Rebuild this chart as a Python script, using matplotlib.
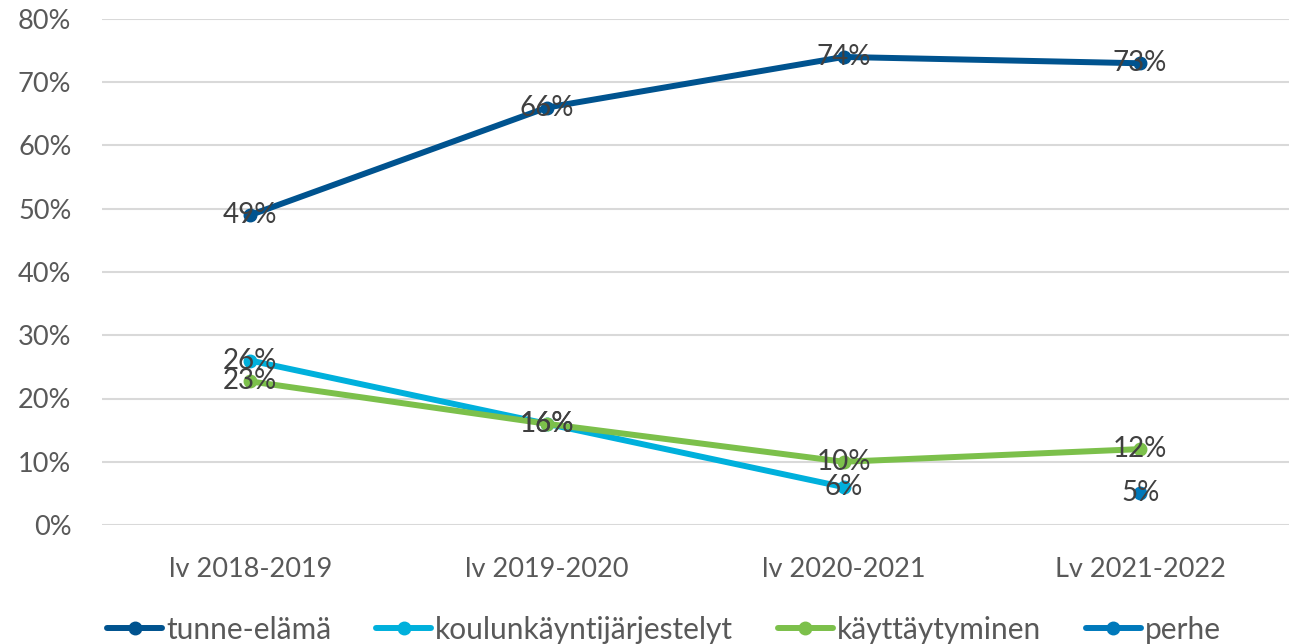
import numpy as np
import matplotlib
matplotlib.use("Agg")
import matplotlib.pyplot as plt
from matplotlib.ticker import PercentFormatter

plt.rcParams['font.family'] = ['Lato', 'DejaVu Sans']

vuodet = ['lv 2018-2019', 'lv 2019-2020', 'lv 2020-2021', 'Lv 2021-2022']
tunne_elama = [0.49, 0.66, 0.74, 0.73]
koulunkaynti = [0.26, 0.16, 0.06, np.nan]
kayttaytyminen = [0.227, 0.16, 0.10, 0.12]
perhe = [np.nan, np.nan, np.nan, 0.05]

sarjat = [
    ('tunne-elämä', tunne_elama, '#00538F'),
    ('koulunkäyntijärjestelyt', koulunkaynti, '#00B0DC'),
    ('käyttäytyminen', kayttaytyminen, '#7CC04B'),
    ('perhe', perhe, '#0079BB'),
]

fig = plt.figure(figsize=(12.99, 6.44), dpi=100)
ax = fig.add_axes([102 / 1299, 119 / 644, 1186.5 / 1299, 506 / 644])

x = np.arange(len(vuodet))
for nimi, arvot, vari in sarjat:
    ax.plot(x, arvot, color=vari, lw=4.3, marker='o', markersize=9,
            label=nimi, solid_capstyle='round', zorder=3)
    for xi, v in zip(x, arvot):
        if not np.isnan(v):
            ax.text(xi, v, f"{round(v * 100)}%", ha='center', va='center',
                    fontsize=20, color='#404040', zorder=4)

ax.set_xlim(-0.5, 3.5)
ax.set_ylim(0, 0.8)
ax.set_yticks(np.arange(0, 0.81, 0.1))
ax.yaxis.set_major_formatter(PercentFormatter(1.0, decimals=0))
ax.set_xticks(x)
ax.set_xticklabels(vuodet)
ax.grid(axis='y', color='#D9D9D9', lw=1.5, zorder=0)
for s in ax.spines.values():
    s.set_visible(False)
ax.tick_params(axis='both', length=0, labelsize=19.5, colors='#595959')
ax.tick_params(axis='x', pad=23)
ax.tick_params(axis='y', pad=22)

fig.legend(loc='center', bbox_to_anchor=(0.511, 0.022), ncol=4, frameon=False,
           fontsize=21.5, handlelength=1.85, handletextpad=0.12, columnspacing=1.5,
           labelcolor='#595959')

fig.savefig('out.png', dpi=100)
